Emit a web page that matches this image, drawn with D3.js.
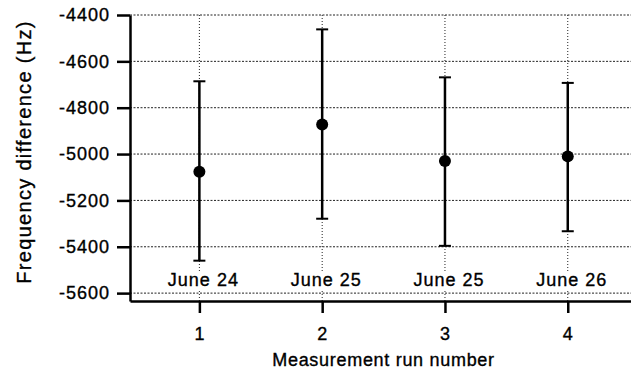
<!DOCTYPE html>
<html lang="en">
  <head>
    <meta charset="utf-8" />
    <title>Frequency difference</title>
    <script src="https://cdnjs.cloudflare.com/ajax/libs/d3/7.8.5/d3.min.js"></script>
    <style>
      body {
        margin: 0;
        background: #fff;
      }
      svg text {
        font-family: "Liberation Sans", Arial, Helvetica, sans-serif;
        fill: #000;
        stroke: #000;
        stroke-width: 0.35px;
      }
      .grid line {
        stroke: #222;
        stroke-width: 1;
        stroke-dasharray: 2, 1.5;
      }
    </style>
  </head>
  <body>
    <svg id="chart" width="631" height="371"></svg>
    <script>
      // values
      const runs = [1, 2, 3, 4];
      const dates = ["June 24", "June 25", "June 25", "June 26"];
      const freq = [-5076, -4872, -5030, -5010];
      const errLow = [-5460, -5279, -5396, -5333];
      const errHigh = [-4686, -4462, -4669, -4693];
      const yTicks = [-5600, -5400, -5200, -5000, -4800, -4600, -4400];

      const svg = d3.select("#chart");
      const plotLeft = 130,
        plotRight = 631,
        plotTop = 15,
        plotBottom = 301;

      const x = d3.scaleLinear().domain([0.435, 4.515]).range([plotLeft, plotRight]);
      const y = d3.scaleLinear().domain([-5634, -4400]).range([plotBottom, plotTop]);

      // grid
      const grid = svg.append("g").attr("class", "grid");
      grid
        .selectAll("line.h")
        .data(yTicks)
        .join("line")
        .attr("class", "h")
        .attr("x1", plotLeft)
        .attr("x2", plotRight)
        .attr("y1", (d) => y(d))
        .attr("y2", (d) => y(d));
      grid
        .selectAll("line.v")
        .data(runs)
        .join("line")
        .attr("class", "v")
        .attr("x1", (d) => x(d))
        .attr("x2", (d) => x(d))
        .attr("y1", plotTop)
        .attr("y2", plotBottom)
        .style("stroke-dasharray", "1,2");

      // date labels, white box hides the grid behind them
      const lab = svg
        .append("g")
        .selectAll("g")
        .data(runs)
        .join("g")
        .attr("transform", (d) => `translate(${x(d) + 4},${y(-5600) - 7})`);
      lab
        .append("rect")
        .attr("x", -38)
        .attr("y", -15)
        .attr("width", 76)
        .attr("height", 18)
        .attr("fill", "#fff");
      lab
        .append("text")
        .attr("text-anchor", "middle")
        .style("font-size", "18px")
        .style("letter-spacing", "1px")
        .text((d, i) => dates[i]);

      // error bars
      const bars = svg.append("g").attr("stroke", "#000");
      bars
        .selectAll("line.err")
        .data(runs)
        .join("line")
        .attr("class", "err")
        .attr("x1", (d) => x(d))
        .attr("x2", (d) => x(d))
        .attr("y1", (d, i) => y(errLow[i]))
        .attr("y2", (d, i) => y(errHigh[i]))
        .attr("stroke-width", 2.5);
      [errLow, errHigh].forEach((arr) => {
        bars
          .append("g")
          .selectAll("line")
          .data(runs)
          .join("line")
          .attr("x1", (d) => x(d) - 6)
          .attr("x2", (d) => x(d) + 6)
          .attr("y1", (d, i) => y(arr[i]))
          .attr("y2", (d, i) => y(arr[i]))
          .attr("stroke-width", 2);
      });
      svg
        .append("g")
        .selectAll("circle")
        .data(runs)
        .join("circle")
        .attr("cx", (d) => x(d))
        .attr("cy", (d, i) => y(freq[i]))
        .attr("r", 6)
        .attr("fill", "#000");

      // axes
      const yAxis = svg
        .append("g")
        .attr("transform", `translate(${plotLeft},0)`)
        .call(
          d3
            .axisLeft(y)
            .tickValues(yTicks)
            .tickFormat((d) => String(d))
            .tickSize(13)
            .tickPadding(7)
            .tickSizeOuter(0)
        );
      const xAxis = svg
        .append("g")
        .attr("transform", `translate(0,${plotBottom})`)
        .call(
          d3
            .axisBottom(x)
            .tickValues(runs)
            .tickFormat((d) => String(d))
            .tickSize(12)
            .tickSizeOuter(0)
        );
      [yAxis, xAxis].forEach((g) => {
        g.select(".domain").attr("stroke-width", 2.5);
        g.selectAll(".tick line").attr("stroke-width", 2.5);
        g.selectAll(".tick text")
          .style("font-size", "18px")
          .style("letter-spacing", "1px");
      });
      xAxis.selectAll(".tick text").attr("y", 39).attr("dy", 0);

      // axis titles
      svg
        .append("text")
        .attr("x", (plotLeft + plotRight) / 2 + 3)
        .attr("y", 366)
        .attr("text-anchor", "middle")
        .style("font-size", "18px")
        .style("letter-spacing", "0.7px")
        .text("Measurement run number");
      svg
        .append("text")
        .attr("transform", "translate(31,152) rotate(-90)")
        .attr("text-anchor", "middle")
        .style("font-size", "20px")
        .style("letter-spacing", "1.3px")
        .text("Frequency difference (Hz)");
    </script>
  </body>
</html>
